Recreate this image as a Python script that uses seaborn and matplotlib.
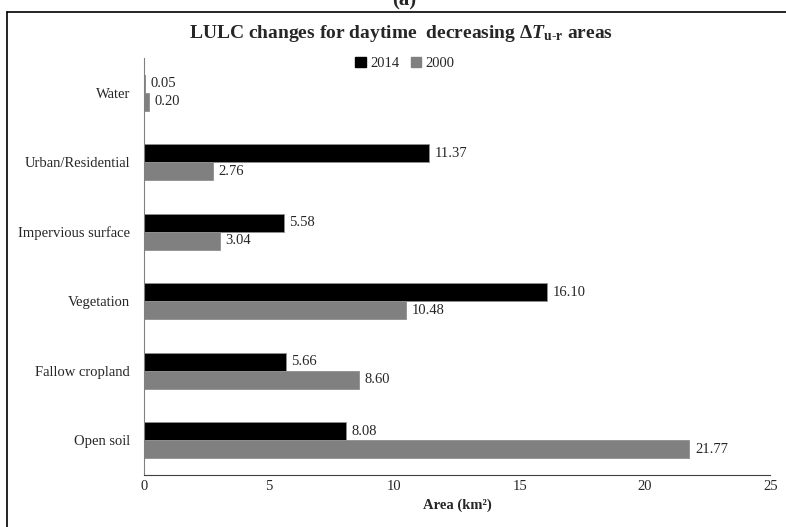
import pandas as pd
import seaborn as sns
import matplotlib.pyplot as plt
from matplotlib.lines import Line2D
from matplotlib.patches import Patch

# data
categories = ["Water", "Urban/Residential", "Impervious surface", "Vegetation",
              "Fallow cropland", "Open soil"]
area_2014 = [0.05, 11.37, 5.58, 16.10, 5.66, 8.08]
area_2000 = [0.20, 2.76, 3.04, 10.48, 8.60, 21.77]
years = ["2014", "2000"]
colors = ["#000000", "#808080"]

df = pd.DataFrame({
    "Category": categories * 2,
    "Area": area_2014 + area_2000,
    "Year": ["2014"] * len(categories) + ["2000"] * len(categories),
})

sns.set_style("white")
plt.rcParams["font.family"] = ["Liberation Serif", "DejaVu Serif"]
plt.rcParams["mathtext.fontset"] = "custom"
plt.rcParams["mathtext.rm"] = "Liberation Serif:bold"
plt.rcParams["mathtext.it"] = "Liberation Serif:italic:bold"
plt.rcParams["mathtext.bf"] = "Liberation Serif:bold"

fig = plt.figure(figsize=(7.86, 5.27), dpi=100)
ax = fig.add_axes([0.183, 0.099, 0.797, 0.791])

sns.barplot(data=df, y="Category", x="Area", hue="Year", hue_order=years,
            palette=colors, order=categories, orient="h", width=0.52,
            edgecolor="#909090", linewidth=0.6, ax=ax, legend=False)

for cont in ax.containers:
    ax.bar_label(cont, fmt="%.2f", padding=4, fontsize=10.5)

ax.set_xlim(0, 25)
ax.set_xticks([0, 5, 10, 15, 20, 25])
ax.set_xlabel("Area (km²)", fontsize=10.5, fontweight="bold")
ax.set_ylabel("")
ax.tick_params(axis="x", labelsize=10.5, direction="in", length=4, color="#404040")
ax.tick_params(axis="y", labelsize=10.5, length=0, pad=10)
for s in ["top", "right"]:
    ax.spines[s].set_visible(False)
ax.spines["left"].set_color("#808080")
ax.spines["bottom"].set_color("#404040")

handles = [Patch(facecolor=c, edgecolor=c) for c in colors]
fig.legend(handles, years, loc="center", bbox_to_anchor=(0.515, 0.88), ncol=2,
           frameon=False, fontsize=10.5, handlelength=0.7, handleheight=0.7,
           handletextpad=0.3, columnspacing=0.8)

fig.text(0.51, 0.937, r"LULC changes for daytime  decreasing $\Delta T_{\rm u\text{-}r}$ areas",
         ha="center", va="center", fontsize=14, fontweight="bold")
fig.text(0.514, 1.0, "(a)", ha="center", va="center", fontsize=15, fontweight="bold")

# outer frame
fig.add_artist(Line2D([7 / 786, 7 / 786], [0, 1 - 12 / 527], color="black", lw=1.2,
                      transform=fig.transFigure))
fig.add_artist(Line2D([7 / 786, 1], [1 - 12 / 527, 1 - 12 / 527], color="black", lw=1.2,
                      transform=fig.transFigure))

plt.savefig("out.png", dpi=100)
